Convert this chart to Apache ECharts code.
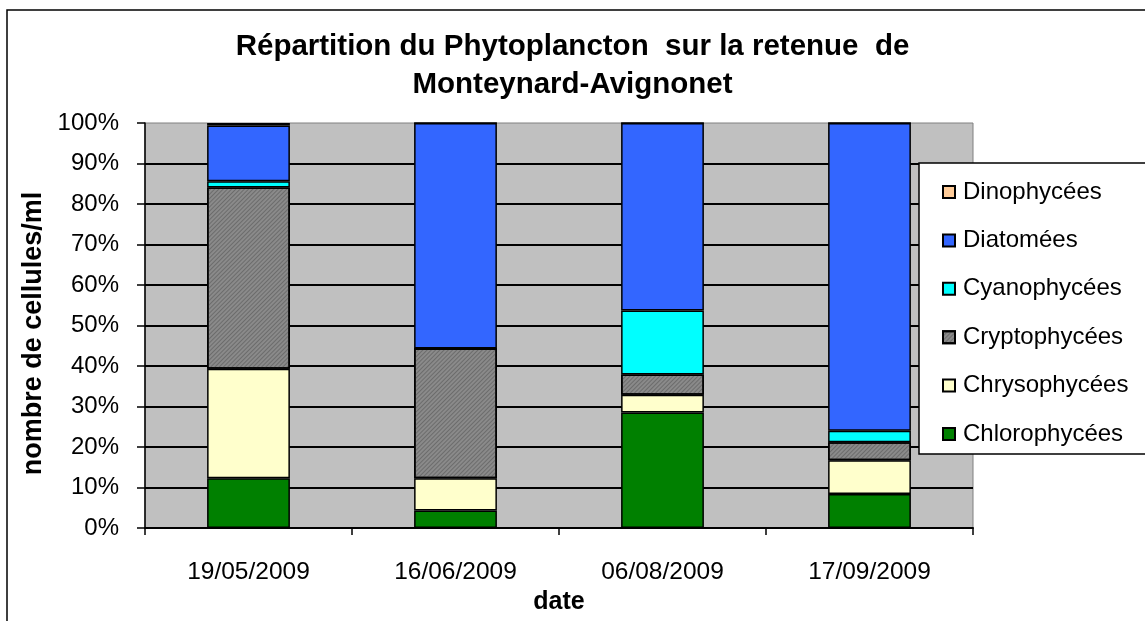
<!DOCTYPE html>
<html>
<head>
<meta charset="utf-8">
<script src="https://cdn.jsdelivr.net/npm/echarts@6/dist/echarts.min.js"></script>
<style>
html,body{margin:0;padding:0;background:#fff;}
#chart{width:1145px;height:621px;}
</style>
</head>
<body>
<div id="chart"></div>
<script>
const dates = ['19/05/2009', '16/06/2009', '06/08/2009', '17/09/2009'];
const yTicks = [0, 10, 20, 30, 40, 50, 60, 70, 80, 90, 100];
const chlorophycees = [12.3, 4.3, 28.5, 8.4];
const chrysophycees = [27.0, 8.0, 4.4, 8.3];
const cryptophycees = [44.8, 32.0, 5.0, 4.5];
const cyanophycees = [1.5, 0, 15.8, 2.8];
const diatomees = [13.8, 55.7, 46.3, 76.0];
const dinophycees = [0.6, 0, 0, 0];

const FONT = 'Liberation Sans, Arial, sans-serif';
const chart = echarts.init(document.getElementById('chart'), null, {renderer: 'canvas'});

function bar(name, data, color, decal) {
  const s = {
    name: name,
    type: 'bar',
    stack: 'total',
    barWidth: '40%',
    data: data,
    itemStyle: {color: color, borderColor: '#000', borderWidth: 1.5},
    emphasis: {disabled: true}
  };
  if (decal) s.itemStyle.decal = decal;
  return s;
}

const hatch = {
  symbol: 'rect',
  symbolSize: 1,
  color: 'rgba(70,70,70,0.45)',
  dashArrayX: [1, 0],
  dashArrayY: [1, 1.5],
  rotation: -Math.PI / 4
};

chart.setOption({
  animation: false,
  backgroundColor: '#fff',
  textStyle: {fontFamily: FONT},
  title: {
    text: 'Répartition du Phytoplancton  sur la retenue  de\nMonteynard-Avignonet',
    left: 'center',
    top: 23,
    textStyle: {fontFamily: FONT, fontSize: 29.5, fontWeight: 'bold', color: '#000', lineHeight: 38}
  },
  graphic: [
    {type: 'rect', z: -10, shape: {x: 7, y: 10, width: 1300, height: 800},
     style: {fill: 'none', stroke: '#000', lineWidth: 1.5}},
    {type: 'rect', z: 50, shape: {x: 919, y: 163, width: 400, height: 291},
     style: {fill: '#fff', stroke: '#000', lineWidth: 1.5}}
  ],
  legend: {
    z: 60,
    orient: 'vertical',
    left: 937,
    top: 175,
    icon: 'rect',
    itemWidth: 12,
    itemHeight: 12,
    itemGap: 24.4,
    selectedMode: false,
    data: ['Dinophycées', 'Diatomées', 'Cyanophycées', 'Cryptophycées', 'Chrysophycées', 'Chlorophycées'],
    textStyle: {fontFamily: FONT, fontSize: 24, color: '#000', lineHeight: 24, padding: [0, 0, 0, 3]}
  },
  grid: {
    left: 145, right: 172, top: 123, bottom: 93,
    show: true, backgroundColor: '#c0c0c0', borderColor: '#808080', borderWidth: 1
  },
  xAxis: {
    type: 'category',
    data: dates,
    boundaryGap: true,
    name: 'date',
    nameLocation: 'middle',
    nameGap: 51,
    nameTextStyle: {fontFamily: FONT, fontSize: 25, fontWeight: 'bold', color: '#000'},
    axisLine: {show: true, lineStyle: {color: '#000', width: 2}},
    axisTick: {show: true, inside: false, length: 7, alignWithLabel: false, lineStyle: {color: '#000', width: 1.5}},
    axisLabel: {fontFamily: FONT, fontSize: 24.5, color: '#000', margin: 32}
  },
  yAxis: {
    type: 'value',
    min: yTicks[0],
    max: yTicks[yTicks.length - 1],
    interval: yTicks[1] - yTicks[0],
    name: 'nombre de cellules/ml',
    nameLocation: 'middle',
    nameRotate: 90,
    nameGap: 89,
    nameTextStyle: {fontFamily: FONT, fontSize: 27, fontWeight: 'bold', color: '#000', padding: [0, 16, 0, 0]},
    axisLine: {show: true, lineStyle: {color: '#000', width: 1.5}},
    axisTick: {show: true, inside: false, length: 8, lineStyle: {color: '#000', width: 1.5}},
    axisLabel: {fontFamily: FONT, fontSize: 24, color: '#000', margin: 26, formatter: '{value}%'},
    splitLine: {show: true, showMaxLine: false, lineStyle: {color: '#000', width: 2}}
  },
  series: [
    bar('Chlorophycées', chlorophycees, '#008000'),
    bar('Chrysophycées', chrysophycees, '#ffffcc'),
    bar('Cryptophycées', cryptophycees, '#8a8a8a', hatch),
    bar('Cyanophycées', cyanophycees, '#00ffff'),
    bar('Diatomées', diatomees, '#3366ff'),
    bar('Dinophycées', dinophycees, '#ffcc99')
  ]
});
</script>
</body>
</html>
